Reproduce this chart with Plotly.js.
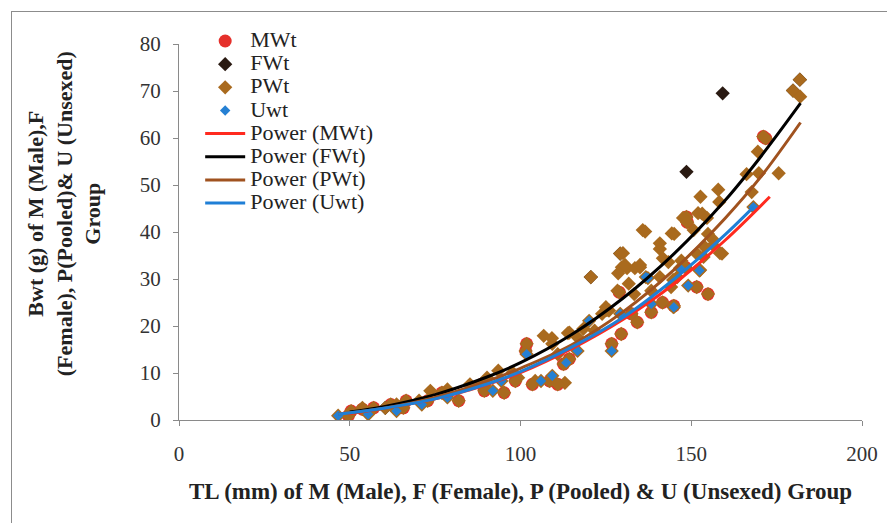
<!DOCTYPE html>
<html>
<head>
<meta charset="utf-8">
<script src="https://cdn.plot.ly/plotly-3.0.1.min.js"></script>
<style>
  html, body { margin: 0; padding: 0; background: #fff; }
  #wrap { position: relative; width: 887px; height: 523px; overflow: hidden; }
  #frame { position: absolute; left: 11px; top: 11px; width: 900px; height: 540px; border: 1px solid #8c8c8c; box-sizing: border-box; pointer-events: none; }
  #chart { position: absolute; left: 0; top: 0; width: 887px; height: 523px; }
</style>
</head>
<body>
<div id="wrap">
  <div id="chart"></div>
  <div id="frame"></div>
</div>
<script>
// ---- Male (MWt) observations: TL (mm), Bwt (g)
const mwtX = [49.6, 50.4, 53.7, 57.0, 62.0, 65.7, 66.5, 72.8, 77.0, 81.9, 88.6, 89.4, 95.2, 98.5,
              101.5, 101.8, 103.5, 108.5, 110.9, 112.6, 114.3, 126.7, 128.9, 129.5, 132.5, 134.2,
              138.3, 141.6, 144.9, 148.3, 148.6, 148.8, 151.6, 154.9, 171.1, 171.8];
const mwtY = [0.9, 1.9, 2.3, 2.6, 3.3, 2.6, 4.1, 4.1, 5.8, 4.1, 7.6, 6.2, 5.8, 8.3,
              14.7, 16.2, 7.6, 8.3, 7.6, 11.9, 13.0, 16.2, 27.2, 18.3, 22.6, 20.8,
              22.9, 25.0, 24.3, 32.5, 43.2, 42.1, 28.3, 26.8, 60.3, 59.9];

// ---- Female (FWt) observations
const fwtX = [60.4, 120.6, 129.2, 148.6, 159.2, 179.8, 181.8];
const fwtY = [2.6, 30.4, 35.4, 52.8, 69.5, 70.1, 72.4];

// ---- Pooled (PWt) observations not already listed in the M / U groups
const pwtX = [53.7, 60.4, 63.7, 70.3, 73.6, 78.6, 85.2, 89.4, 90.2, 93.5, 97.7, 99.3, 104.3,
              106.8, 109.3, 110.9, 114.3, 116.7, 118.4, 121.7, 123.9, 125.0, 125.9, 128.4,
              129.2, 129.7, 131.7, 133.3, 135.0, 135.8, 138.3, 140.8, 140.8, 143.3, 144.1,
              145.0, 145.9, 147.1, 150.7, 151.6, 152.7, 153.2, 153.6, 154.0, 154.9, 156.6,
              157.9, 158.2, 159.0, 166.2, 167.7, 169.5, 169.8, 175.6, 179.8, 181.8, 181.9, 120.6,
              131.2, 128.6, 133.5, 125.3, 109.2, 113.9, 113.0, 136.5, 144.3, 147.6, 152.0, 154.6,
              140.8, 135.0, 130.0, 141.7, 156.4, 152.6, 144.7, 144.7, 158.4, 130.6];
const pwtY = [2.6, 2.6, 3.3, 4.1, 6.2, 6.5, 7.6, 7.3, 9.0, 10.5, 10.1, 9.0, 8.3,
              17.9, 16.2, 14.0, 18.6, 17.6, 19.4, 19.0, 22.6, 24.0, 23.3, 27.5,
              35.4, 32.5, 29.0, 26.8, 32.5, 40.4, 27.5, 36.4, 30.4, 33.6, 28.3,
              39.6, 30.4, 33.9, 40.4, 35.4, 47.5, 43.9, 34.7, 36.8, 39.6, 38.2,
              49.0, 46.4, 35.4, 52.3, 48.5, 57.1, 52.5, 52.5, 70.1, 72.4, 68.8, 30.4,
              32.3, 31.2, 32.3, 23.4, 17.4, 18.5, 7.9, 40.1, 39.7, 43.0, 44.0, 43.0,
              37.6, 33.0, 35.5, 34.4, 37.2, 31.9, 29.8, 24.1, 35.5, 33.0];

// ---- Unsexed (Uwt) observations
const uwtX = [46.6, 55.4, 63.7, 71.1, 78.6, 91.9, 94.4, 101.8, 106.0, 109.3, 113.4, 116.7,
              120.1, 126.7, 129.2, 136.7, 138.3, 144.9, 149.1, 152.4, 168.2, 146.7, 137.3];
const uwtY = [0.9, 1.2, 1.9, 3.3, 4.8, 6.2, 8.3, 14.0, 8.3, 9.4, 12.2, 14.7,
              21.1, 14.7, 22.6, 30.4, 24.7, 24.0, 28.6, 31.8, 45.3, 32.3, 30.2];

// ---- Power trendlines
const trendMX = [49.6, 60, 75, 90, 100, 115, 130, 145, 160, 173];
const trendMY = [1.3, 2.5, 4.5, 7.5, 10.1, 15.2, 21.4, 29.0, 38.3, 47.5];
const trendFX = [50, 60, 75, 90, 100, 115, 130, 145, 160, 170, 182];
const trendFY = [1.7, 2.85, 5.4, 9.1, 12.2, 18.2, 25.9, 35.4, 46.8, 55.7, 67.4];
const trendPX = [46.6, 60, 75, 90, 100, 115, 130, 145, 160, 170, 182];
const trendPY = [1.3, 2.5, 4.8, 8.2, 11.0, 16.0, 23.0, 32.0, 43.0, 51.4, 63.3];
const trendUX = [46.6, 60, 75, 90, 100, 115, 130, 145, 160, 168.2];
const trendUY = [1.2, 2.5, 4.5, 7.6, 10.3, 15.5, 21.8, 30.0, 39.5, 45.3];

const xTicks = [0, 50, 100, 150, 200];
const yTicks = [0, 10, 20, 30, 40, 50, 60, 70, 80];

const xTitle = 'TL (mm) of M (Male), F (Female), P (Pooled) & U (Unsexed) Group';
const yTitleLines = ['Bwt (g) of M (Male),F', '(Female), P(Pooled)& U (Unsexed)', 'Group'];

const serif = 'Liberation Serif, Times New Roman, serif';
const lg = s => '<span style="font-size:22px">' + s + '</span>';

const traces = [
  { name: lg('MWt'), x: mwtX, y: mwtY, type: 'scatter', mode: 'markers',
    marker: { symbol: 'circle', size: 13, color: '#E5302B' } },
  { name: lg('FWt'), x: fwtX, y: fwtY, type: 'scatter', mode: 'markers',
    marker: { symbol: 'diamond', size: 11, color: '#2A1A12' } },
  { name: lg('PWt'), x: pwtX.concat(mwtX, uwtX), y: pwtY.concat(mwtY, uwtY), type: 'scatter', mode: 'markers',
    marker: { symbol: 'diamond', size: 11, color: '#A96A1E' } },
  { name: lg('Uwt'), x: uwtX, y: uwtY, type: 'scatter', mode: 'markers',
    marker: { symbol: 'diamond', size: 8, color: '#2580D3' } },
  { name: lg('Power (MWt)'), x: trendMX, y: trendMY, type: 'scatter', mode: 'lines',
    line: { color: '#FF2A1F', width: 3, shape: 'spline' } },
  { name: lg('Power (FWt)'), x: trendFX, y: trendFY, type: 'scatter', mode: 'lines',
    line: { color: '#000000', width: 3, shape: 'spline' } },
  { name: lg('Power (PWt)'), x: trendPX, y: trendPY, type: 'scatter', mode: 'lines',
    line: { color: '#A0521F', width: 3, shape: 'spline' } },
  { name: lg('Power (Uwt)'), x: trendUX, y: trendUY, type: 'scatter', mode: 'lines',
    line: { color: '#1F7FD6', width: 3, shape: 'spline' } }
];

const layout = {
  width: 887, height: 523,
  margin: { l: 179, r: 25, t: 44, b: 103 },
  paper_bgcolor: '#ffffff', plot_bgcolor: '#ffffff',
  showlegend: true,
  legend: {
    x: 0.031, y: 1.052, xanchor: 'left', yanchor: 'top',
    bgcolor: 'rgba(0,0,0,0)',
    font: { family: serif, size: 15.5, color: '#222' },
    itemwidth: 40,
    tracegroupgap: 0
  },
  xaxis: {
    range: [0, 200], tickvals: xTicks, ticktext: xTicks.map(String),
    showgrid: false, zeroline: false,
    showline: true, linecolor: '#8a8a8a', linewidth: 1,
    ticks: 'outside', ticklen: 5, tickcolor: '#8a8a8a',
    ticklabelstandoff: 10,
    tickfont: { family: serif, size: 21, color: '#333' },
    title: { text: '<b>' + xTitle + '</b>',
             font: { family: serif, size: 23, color: '#222' }, standoff: 17 }
  },
  yaxis: {
    range: [0, 80], tickvals: yTicks, ticktext: yTicks.map(String),
    showgrid: false, zeroline: false,
    showline: true, linecolor: '#8a8a8a', linewidth: 1,
    ticks: 'outside', ticklen: 5, tickcolor: '#8a8a8a',
    ticklabelstandoff: 8,
    tickfont: { family: serif, size: 21, color: '#333' }
  },
  annotations: [{
    xref: 'paper', yref: 'paper', x: -0.168, y: 0.548,
    xanchor: 'center', yanchor: 'middle', textangle: -90, showarrow: false,
    text: '<b>' + yTitleLines.join('<br>') + '</b>',
    font: { family: serif, size: 22, color: '#222' }
  }]
};

Plotly.newPlot('chart', traces, layout, { displayModeBar: false, staticPlot: true });
</script>
</body>
</html>
